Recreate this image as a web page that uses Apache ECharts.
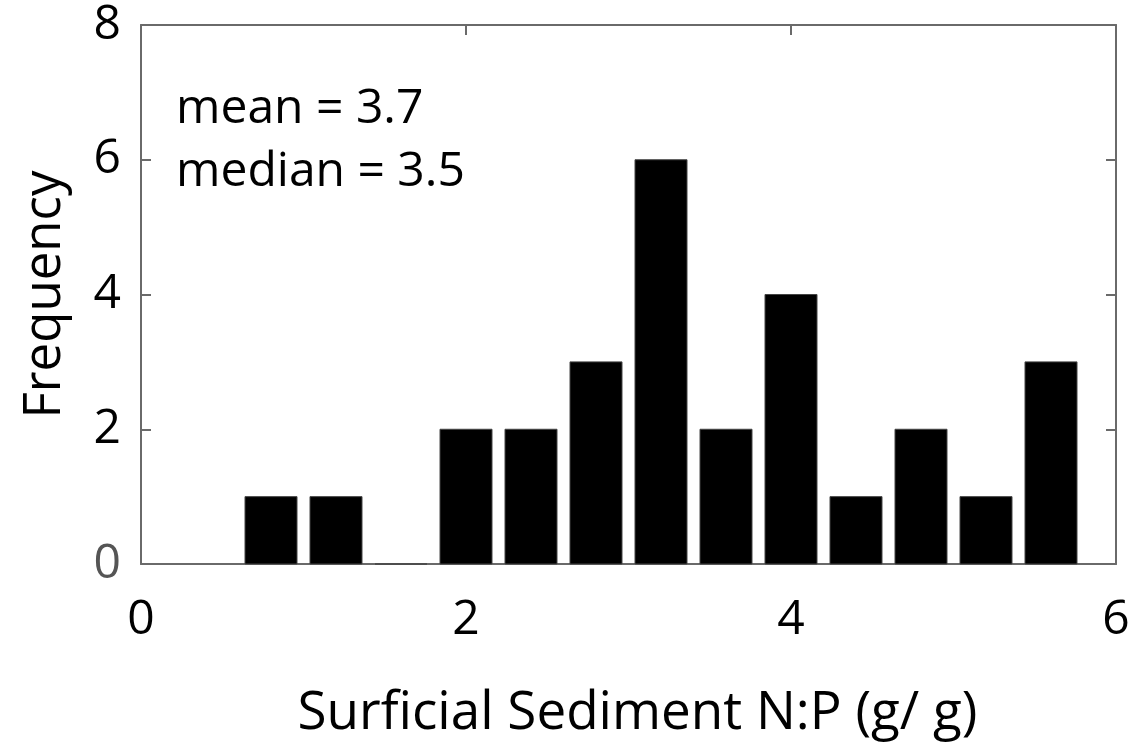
<!DOCTYPE html>
<html>
<head>
<meta charset="utf-8">
<script src="https://cdn.jsdelivr.net/npm/echarts@6/dist/echarts.min.js"></script>
<style>
html,body{margin:0;padding:0;background:#fff;}
#chart{width:1148px;height:747px;}
</style>
</head>
<body>
<div id="chart"></div>
<script>
// Histogram data (bin centers and counts)
const binCenters = [0.8, 1.2, 1.6, 2.0, 2.4, 2.8, 3.2, 3.6, 4.0, 4.4, 4.8, 5.2, 5.6];
const counts     = [1,   1,   0,   2,   2,   3,   6,   2,   4,   1,   2,   1,   3];
const xTicks = [0, 2, 4, 6];
const yTicks = [0, 2, 4, 6, 8];
const xTitle = 'Surficial Sediment N:P (g/ g)';
const yTitle = 'Frequency';
const statLines = ['mean = 3.7', 'median = 3.5'];

const binWidth = 0.4;
const barFrac = 0.8;
const FONT = '"Open Sans", "Noto Sans", sans-serif';
const AXC = '#6a6a6a';

const chart = echarts.init(document.getElementById('chart'));
const seriesData = binCenters.map((c, i) => [c, counts[i]]);

const commonX = {
  type: 'value', min: xTicks[0], max: xTicks[xTicks.length - 1], interval: 2,
  splitLine: {show: false},
  axisLine: {show: true, onZero: false, lineStyle: {color: AXC, width: 2}},
  axisTick: {show: true, inside: true, length: 10, lineStyle: {color: AXC, width: 2}}
};
const commonY = {
  type: 'value', min: yTicks[0], max: yTicks[yTicks.length - 1], interval: 2,
  splitLine: {show: false},
  axisLine: {show: true, onZero: false, lineStyle: {color: AXC, width: 2}},
  axisTick: {show: true, inside: true, length: 10, lineStyle: {color: AXC, width: 2}}
};

chart.setOption({
  animation: false,
  backgroundColor: '#fff',
  grid: {left: 141, right: 32, top: 25, bottom: 183, containLabel: false, outerBoundsMode: 'none'},
  xAxis: [
    Object.assign({}, commonX, {
      position: 'bottom',
      name: xTitle, nameLocation: 'middle', nameGap: 123,
      nameTextStyle: {fontFamily: FONT, fontSize: 53, color: '#000', padding: [0, 0, 0, 18]},
      axisLabel: {fontFamily: FONT, fontSize: 48, color: '#000', margin: 32}
    }),
    Object.assign({}, commonX, {position: 'top', axisLabel: {show: false}})
  ],
  yAxis: [
    Object.assign({}, commonY, {
      position: 'left',
      name: yTitle, nameLocation: 'middle', nameGap: 70, nameRotate: 90,
      nameTextStyle: {fontFamily: FONT, fontSize: 51, color: '#000'},
      axisLabel: {fontFamily: FONT, fontSize: 48, margin: 20,
        color: function (v) { return Number(v) === 0 ? '#555' : '#000'; }}
    }),
    Object.assign({}, commonY, {position: 'right', axisLabel: {show: false}})
  ],
  series: [{
    type: 'custom',
    xAxisIndex: 0, yAxisIndex: 0,
    data: seriesData,
    renderItem: function (params, api) {
      const c = api.value(0), v = api.value(1);
      const half = binWidth * barFrac / 2;
      const p0 = api.coord([c - half, v]);
      const p1 = api.coord([c + half, 0]);
      return {
        type: 'rect',
        shape: {x: p0[0], y: p0[1], width: p1[0] - p0[0], height: p1[1] - p0[1]},
        style: {fill: '#000', stroke: '#444', lineWidth: 1}
      };
    },
    z: 1
  }],
  graphic: [{
    type: 'text', left: 176, top: 78, z: 10,
    style: {text: statLines.join('\n'), fontFamily: FONT, fontSize: 48, lineHeight: 63, fill: '#000'}
  }]
});
</script>
</body>
</html>
